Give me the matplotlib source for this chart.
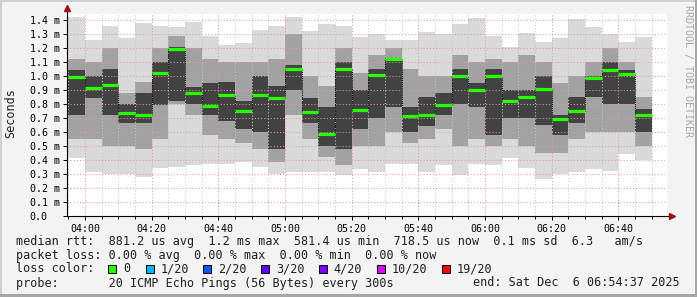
import numpy as np
import matplotlib
matplotlib.use('Agg')
import matplotlib.pyplot as plt
from matplotlib.patches import Rectangle

# 5 minute rounds, start of each round in minutes after midnight (03:55 .. 06:45)
start = np.arange(235, 410, 5)

# smoke (ms): outer band, middle band, dark core, median
lo = np.array([0.41, 0.31, 0.30, 0.30, 0.275, 0.34, 0.35, 0.36, 0.37, 0.37, 0.38, 0.35,
               0.30, 0.31, 0.31, 0.31, 0.29, 0.33, 0.31, 0.37, 0.37, 0.31, 0.36, 0.29,
               0.37, 0.36, 0.41, 0.34, 0.26, 0.30, 0.31, 0.335, 0.32, 0.44, 0.40])
mlo = np.array([0.55, 0.55, 0.50, 0.50, 0.48, 0.55, 0.80, 0.72, 0.58, 0.55, 0.52, 0.48,
                0.38, 0.72, 0.55, 0.42, 0.36, 0.50, 0.50, 0.60, 0.52, 0.55, 0.62, 0.50,
                0.55, 0.50, 0.55, 0.50, 0.45, 0.45, 0.55, 0.60, 0.60, 0.60, 0.50])
dlo = np.array([0.72, 0.84, 0.72, 0.66, 0.66, 0.79, 0.82, 0.80, 0.72, 0.68, 0.62, 0.60,
                0.48, 0.90, 0.66, 0.50, 0.48, 0.62, 0.70, 0.78, 0.60, 0.64, 0.72, 0.80,
                0.78, 0.58, 0.70, 0.70, 0.65, 0.58, 0.66, 0.85, 0.80, 0.80, 0.60])
med = np.array([0.995, 0.917, 0.935, 0.737, 0.72, 1.02, 1.19, 0.878, 0.787, 0.866, 0.75, 0.861,
                0.842, 1.053, 0.74, 0.581, 1.053, 0.755, 1.006, 1.122, 0.713, 0.72, 0.79, 1.0,
                0.9, 0.997, 0.819, 0.852, 0.909, 0.694, 0.749, 0.988, 1.046, 1.012, 0.7185])
dhi = np.array([1.04, 1.00, 1.05, 0.80, 0.88, 1.10, 1.21, 0.92, 0.95, 0.96, 0.82, 1.00,
                0.93, 1.08, 0.84, 0.78, 1.10, 0.90, 1.05, 1.13, 0.78, 0.85, 0.88, 1.05,
                0.95, 1.05, 0.90, 0.90, 1.00, 0.72, 0.85, 1.00, 1.10, 1.04, 0.76])
mhi = np.array([1.12, 1.10, 1.20, 0.88, 0.96, 1.20, 1.29, 1.20, 1.12, 1.10, 1.10, 1.10,
                1.12, 1.30, 1.00, 0.93, 1.20, 1.02, 1.15, 1.20, 1.05, 1.00, 1.00, 1.15,
                1.10, 1.12, 1.10, 1.15, 1.10, 0.95, 1.00, 1.10, 1.20, 1.10, 0.85])
hi = np.array([1.42, 1.26, 1.36, 1.27, 1.38, 1.36, 1.35, 1.39, 1.29, 1.225, 1.24, 1.33,
               1.36, 1.42, 1.32, 1.37, 1.356, 1.28, 1.30, 1.256, 1.256, 1.316, 1.30, 1.37,
               1.416, 1.29, 1.208, 1.31, 1.244, 1.273, 1.407, 1.352, 1.304, 1.244, 1.28])

yticks = [0.0, 0.1, 0.2, 0.3, 0.4, 0.5, 0.6, 0.7, 0.8, 0.9, 1.0, 1.1, 1.2, 1.3, 1.4]
ylabels = ['0.0', '0.1 m', '0.2 m', '0.3 m', '0.4 m', '0.5 m', '0.6 m', '0.7 m',
           '0.8 m', '0.9 m', '1.0 m', '1.1 m', '1.2 m', '1.3 m', '1.4 m']
xticks = [240, 260, 280, 300, 320, 340, 360, 380, 400]
xlabels = ['04:00', '04:20', '04:40', '05:00', '05:20', '05:40', '06:00', '06:20', '06:40']

loss_names = ['0', '1/20', '2/20', '3/20', '4/20', '10/20', '19/20']
loss_colors = ['#26ff00', '#00b8ff', '#0059ff', '#5e00ff', '#7e00ff', '#dd00ff', '#ff0000']

W, H = 697, 297
mono = 'DejaVu Sans Mono'
fig = plt.figure(figsize=(W / 100, H / 100), dpi=100, facecolor='#f3f3f3')

# frame round the picture
fig.add_artist(Rectangle((0, 1 - 2 / H), 1, 2 / H, transform=fig.transFigure, color='#d0d0d0', lw=0))
fig.add_artist(Rectangle((0, 0), 2 / W, 1, transform=fig.transFigure, color='#d0d0d0', lw=0))
fig.add_artist(Rectangle((0, 0), 1, 3 / H, transform=fig.transFigure, color='#a6a6a6', lw=0))
fig.add_artist(Rectangle((1 - 2 / W, 0), 2 / W, 1, transform=fig.transFigure, color='#a6a6a6', lw=0))

ax = fig.add_axes([67 / W, 1 - 215.5 / H, 600 / W, 202 / H])
ax.set_facecolor('white')
t0 = 3 * 60 + 54 + 37 / 60
ax.set_xlim(t0, t0 + 180)
ax.set_ylim(0, 202 / 139.5)

ax.bar(start, hi - lo, bottom=lo, width=5, align='edge', color='#dadada', lw=0, zorder=0.1)
ax.bar(start, mhi - mlo, bottom=mlo, width=5, align='edge', color='#a2a2a2', lw=0, zorder=0.2)
ax.bar(start, dhi - dlo, bottom=dlo, width=5, align='edge', color='#424242', lw=0, zorder=0.3)

ax.set_xticks(xticks)
ax.set_xticklabels(xlabels, family=mono, fontsize=7.2)
ax.set_xticks(np.arange(235, 415, 5), minor=True)
ax.set_yticks(yticks)
ax.set_yticklabels(ylabels, family=mono, fontsize=7.2)
for lab in ax.get_yticklabels():
    lab.set_horizontalalignment('left')
ax.tick_params(axis='y', length=3, width=0.7, pad=24)
ax.tick_params(axis='x', which='major', length=3, width=0.7, pad=3)
ax.tick_params(axis='x', which='minor', length=2, width=0.7)

dots = (0, (1, 2))
ax.grid(which='minor', axis='x', color='#c8c8c8', ls=dots, lw=0.75)
ax.grid(which='major', axis='x', color='#e79a9a', ls=dots, lw=0.75)
ax.grid(which='major', axis='y', color='#e79a9a', ls=dots, lw=0.75)

# median: dotted step connectors and green loss-colour segments
ax.vlines(start[1:], np.minimum(med[:-1], med[1:]), np.maximum(med[:-1], med[1:]),
          colors='black', linestyles=(0, (1, 1)), lw=0.75, zorder=4)
ax.hlines(med, start, start + 5, colors=loss_colors[0], lw=2.3, zorder=5)

for s in ax.spines.values():
    s.set_visible(False)
ax.plot([0, 0], [0, 1.02], color='black', lw=0.8, transform=ax.transAxes, clip_on=False, zorder=6)
ax.plot([0, 1.006], [0, 0], color='black', lw=0.8, transform=ax.transAxes, clip_on=False, zorder=6)
ax.plot([0], [1.025], marker='^', ms=4.5, color='#a01010', transform=ax.transAxes, clip_on=False, zorder=7)
ax.plot([1.008], [0], marker='>', ms=4.5, color='#a01010', transform=ax.transAxes, clip_on=False, zorder=7)

fig.text(11 / W, 1 - 113 / H, 'Seconds', rotation=90, family=mono, fontsize=8.5,
         ha='center', va='center', color='#202020')
fig.text(688 / W, 1 - 5 / H, 'RRDTOOL / TOBI OETIKER', rotation=-90, family=mono,
         fontsize=7.2, ha='center', va='top', color='#a8a8a8')

fs = 8.5
def line(x, y, s, **kw):
    fig.text(x / W, 1 - y / H, s, family=mono, fontsize=fs, va='center', color='#202020', **kw)

line(16, 241, 'median rtt:  881.2 us avg  1.2 ms max  581.4 us min  718.5 us now  0.1 ms sd  6.3   am/s')
line(16, 255, 'packet loss: 0.00 % avg  0.00 % max  0.00 % min  0.00 % now')
line(16, 269, 'loss color:')
box_x = [108, 146, 203, 261, 319, 377, 442]
text_x = [123, 161, 218, 276, 333, 392, 457]
for bx, tx, name, c in zip(box_x, text_x, loss_names, loss_colors):
    fig.add_artist(Rectangle((bx / W, 1 - 273 / H), 8 / W, 8 / H, transform=fig.transFigure,
                             facecolor=c, edgecolor='black', lw=0.7))
    line(tx, 269, name)
line(16, 283, 'probe:       20 ICMP Echo Pings (56 Bytes) every 300s')
line(680, 283, 'end: Sat Dec  6 06:54:37 2025', ha='right')

fig.savefig('out.png', dpi=100, facecolor=fig.get_facecolor())
